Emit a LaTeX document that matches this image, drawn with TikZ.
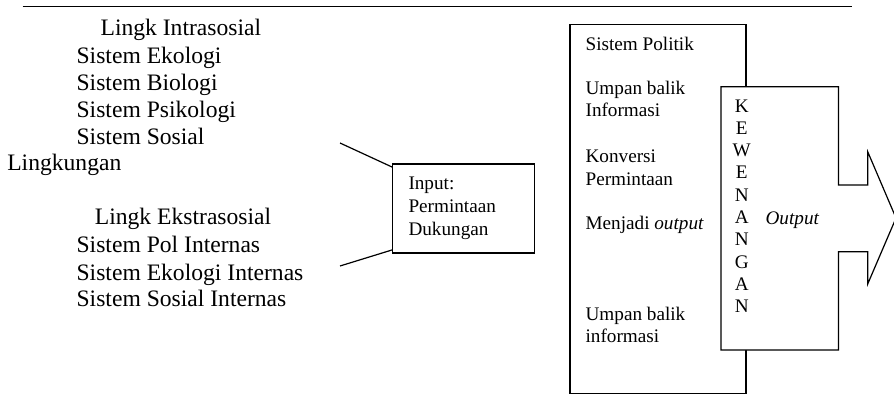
\documentclass[tikz,border=0pt]{standalone}
\usepackage{fontspec}
\setmainfont{Liberation Serif}
\usetikzlibrary{positioning}

\begin{document}
\begin{tikzpicture}[
    x=0.5pt, y=-0.5pt, line width=0.6pt,
    lbl/.style={anchor=base west, inner sep=0pt, font=\fontsize{11.8}{13.6}\selectfont},
    sml/.style={anchor=base west, inner sep=0pt, font=\fontsize{9.6}{11.5}\selectfont},
    inbox/.style={draw, text width=55pt, inner xsep=7.85pt, minimum height=44.5pt, align=left, font=\fontsize{9.6}{11.5}\selectfont},
    kw/.style={anchor=base, inner sep=0pt, font=\fontsize{9.6}{11.5}\selectfont}
]
    \useasboundingbox (0,0) rectangle (894,407);
    \draw (22.7,6.7) -- (852,6.7);

    % lingkungan
    \node[lbl] (intra) at (100,35.7) {Lingk Intrasosial};
    \node[lbl] (eko) at (76,63.3) {Sistem Ekologi};
    \node[lbl] (bio) at (76,90.7) {Sistem Biologi};
    \node[lbl] (psi) at (76,117.7) {Sistem Psikologi};
    \node[lbl] (sos) at (76,144.3) {Sistem Sosial};
    \node[lbl] (lingk) at (6.7,170.7) {Lingkungan};
    \node[lbl] (ekstra) at (94.3,224) {Lingk Ekstrasosial};
    \node[lbl] (pol) at (76,252.3) {Sistem Pol Internas};
    \node[lbl] (ekoint) at (76,280) {Sistem Ekologi Internas};
    \node[lbl] (sosint) at (76,306.7) {Sistem Sosial Internas};

    % input
    \node[inbox] (inp) at (463.5,208.5) {Input:\\Permintaan\\Dukungan};
    \coordinate (inA) at (340,143);
    \coordinate (inB) at (340,266);
    \draw (inA) -- ([yshift=-1.85pt]inp.north west);
    \draw (inB) -- ([yshift=1.85pt]inp.south west);

    % sistem politik
    \draw (570,24.3) rectangle (746,393.3);
    \node[sml] (spol) at (585,50.5) {Sistem Politik};
    \node[sml] (umpA) at (585,94.8) {Umpan balik};
    \node[sml] (infA) at (585,116.5) {Informasi};
    \node[sml] (konv) at (585,162) {Konversi};
    \node[sml] (perm) at (585,185.5) {Permintaan};
    \node[sml] (menj) at (585,229.5) {Menjadi \textit{output}};
    \node[sml] (umpB) at (585,320.5) {Umpan balik};
    \node[sml] (infB) at (585,342) {informasi};

    % kewenangan + output
    \draw[fill=white] (721,86.7) -- (838.5,86.7) -- (838.5,185) -- (867.7,185) -- (867.7,151.7)
        -- (896,218) -- (867.7,284) -- (867.7,251.7) -- (838.5,251.7) -- (838.5,350)
        -- (721,350) -- cycle;
    \foreach \l [count=\i] in {K,E,W,E,N,A,N,G,A,N}
        \node[kw] (kw\i) at (741.7,{112+22.3*(\i-1)}) {\l};
    \node[sml] (out) at (765,224.5) {\textit{Output}};
\end{tikzpicture}
\end{document}
